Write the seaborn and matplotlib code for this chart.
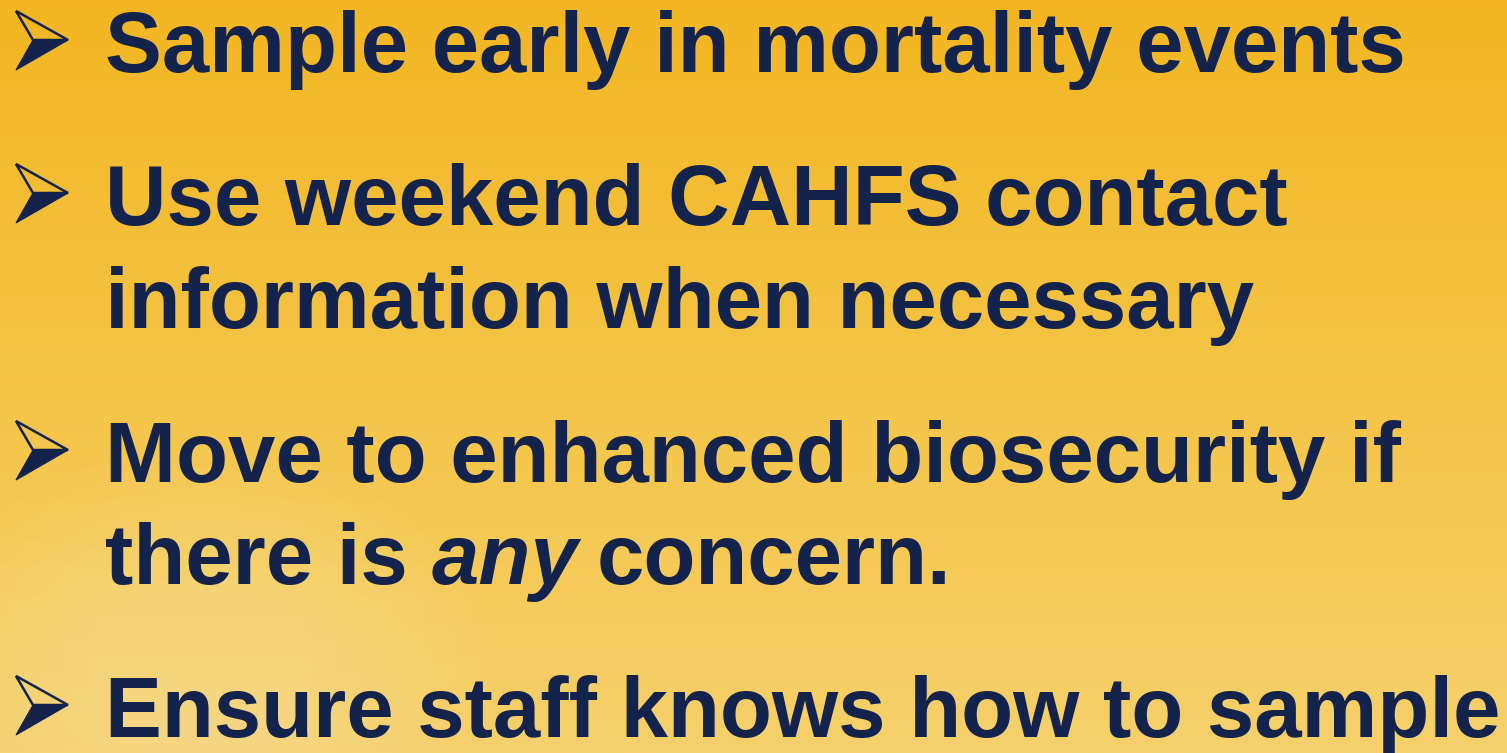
import numpy as np
import seaborn as sns
import matplotlib.pyplot as plt
from matplotlib.patches import Polygon, Ellipse

# slide content
bullet_lines = [
    ["Sample early in mortality events"],
    ["Use weekend CAHFS contact", "information when necessary"],
    ["Move to enhanced biosecurity if", "there is any concern."],
    ["Ensure staff knows how to sample"],
]
italic_word = "any"
baselines = [72, 225, 328, 482, 584, 737]

text_color = "#13234B"
bg_top = "#F3B622"
bg_mid = "#F4C445"
bg_bottom = "#F6D06C"

W, H = 1507, 753

sns.set_theme(style="white")
plt.rcParams["font.family"] = ["Liberation Sans", "DejaVu Sans"]

fig = plt.figure(figsize=(W / 100, H / 100), dpi=100)
ax = fig.add_axes([0, 0, 1, 1])
ax.set_xlim(0, W)
ax.set_ylim(H, 0)
ax.axis("off")

# vertical gradient background
grad = sns.blend_palette([bg_top, bg_mid, bg_bottom], n_colors=256)
img = np.array(grad)[:, None, :]
ax.imshow(img, extent=[0, W, H, 0], aspect="auto", zorder=0)

# faint, soft watermark glow in the lower left
for s in np.linspace(1.0, 0.4, 8):
    ax.add_patch(Ellipse((200, 660), 560 * s, 420 * s, color="white",
                         alpha=0.025, lw=0, zorder=1))

fs = 61.3
renderer = fig.canvas.get_renderer()


def text_width(s, style="normal"):
    t = ax.text(0, 0, s, fontsize=fs, fontweight="bold", style=style)
    bb = t.get_window_extent(renderer)
    t.remove()
    return bb.width


def draw_bullet(y):
    c = y - 32
    upper = Polygon([(16, c - 29), (68, c), (33, c)], closed=True, fill=False,
                    edgecolor=text_color, lw=1.8, joinstyle="miter", zorder=3)
    lower = Polygon([(33, c), (68, c), (16, c + 30)], closed=True,
                    facecolor=text_color, edgecolor=text_color, lw=0.8, zorder=3)
    ax.add_patch(upper)
    ax.add_patch(lower)


space_w = text_width("a a") - text_width("aa")

i = 0
for item in bullet_lines:
    for k, line in enumerate(item):
        y = baselines[i]
        if k == 0:
            draw_bullet(y)
        if f" {italic_word} " in line:
            before, after = line.split(f" {italic_word} ")
            x = 105
            ax.text(x, y, before, fontsize=fs, fontweight="bold",
                    color=text_color, va="baseline", zorder=4)
            x += text_width(before) + space_w
            ax.text(x, y, italic_word, fontsize=fs, fontweight="bold",
                    style="italic", color=text_color, va="baseline", zorder=4)
            x += text_width(italic_word, "italic") + space_w * 0.8
            ax.text(x, y, after, fontsize=fs, fontweight="bold",
                    color=text_color, va="baseline", zorder=4)
        else:
            ax.text(105, y, line, fontsize=fs, fontweight="bold",
                    color=text_color, va="baseline", zorder=4)
        i += 1

fig.savefig("out.png", dpi=100)
